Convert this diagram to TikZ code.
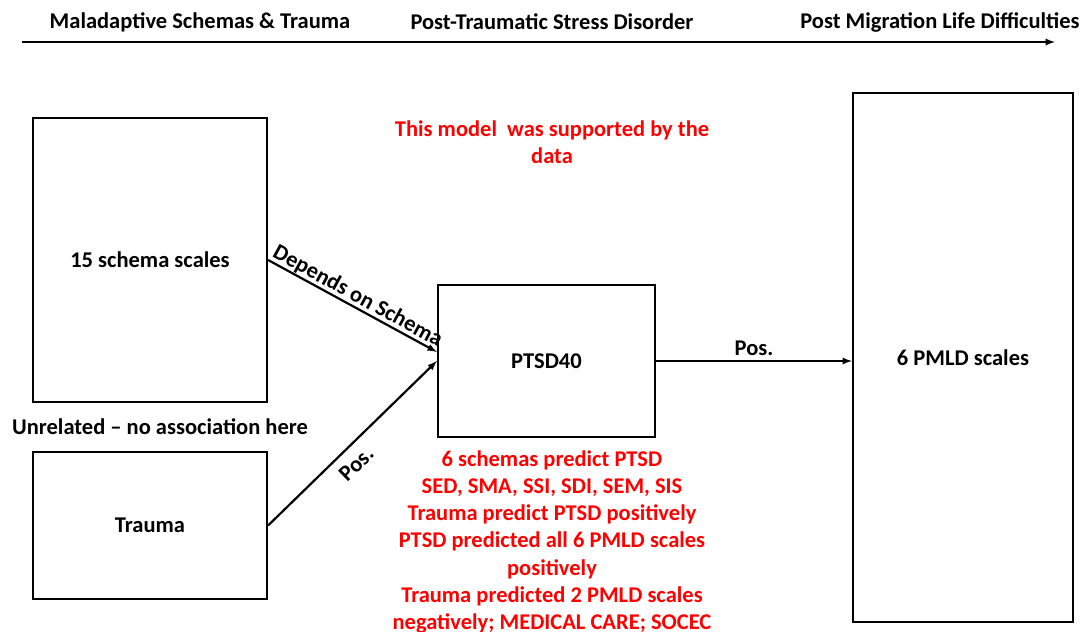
\documentclass[tikz,border=0pt]{standalone}
\usepackage{fontspec}
\setmainfont{Carlito}
\usepackage{tikz}

\tikzset{
	box/.style={draw, line width=2.2pt, minimum width=#1},
	lbl/.style={font=\bfseries\fontsize{22.5}{26}\selectfont},
	note/.style={text=red, align=center, font=\bfseries\fontsize{22.5}{27.2}\selectfont},
	link/.style={->, >=latex, line width=2.2pt}
}

\begin{document}
\begin{tikzpicture}[x=1pt, y=-1pt]
	\useasboundingbox (0,0) rectangle (1082,632);

	\node[lbl] (head1) at (200,22) {Maladaptive Schemas \& Trauma};
	\node[lbl] (head2) at (552,22) {Post-Traumatic Stress Disorder};
	\node[lbl] (head3) at (940,22) {Post Migration Life Difficulties};
	\coordinate (tstart) at (22,42);
	\coordinate (tend) at (1055,42);

	\node[box=234pt, minimum height=284pt, lbl] (schema) at (150,260) {15 schema scales};
	\node[box=234pt, minimum height=147pt, lbl] (trauma) at (150,525.5) {Trauma};
	\node[box=217pt, minimum height=152pt, lbl] (ptsd) at (546.5,361) {PTSD40};
	\node[box=220pt, minimum height=529pt, lbl] (pmld) at (963,357.5) {6 PMLD scales};

	\node[lbl] (unrel) at (160,427) {Unrelated -- no association here};
	\node[note] (support) at (552,142) {This model\ \ was supported by the\\data};
	\node[note, anchor=north] (findings) at (552,447) {6 schemas predict PTSD\\SED, SMA, SSI, SDI, SEM, SIS\\Trauma predict PTSD positively\\PTSD predicted all 6 PMLD scales\\positively\\Trauma predicted 2 PMLD scales\\negatively; MEDICAL CARE; SOCEC};

	\path[link] (tstart) edge (tend);
	\path[link] (schema.east) edge node[lbl, sloped, above, inner sep=0pt] {Depends on Schema} ([yshift=9pt]ptsd.west);
	\path[link] (trauma.east) edge node[lbl, sloped, below, pos=0.45, inner sep=9pt] {Pos.} (ptsd.west);
	\path[link] (ptsd.east) edge node[lbl, above, inner sep=4pt] {Pos.} (ptsd.east -| pmld.west);
\end{tikzpicture}
\end{document}
